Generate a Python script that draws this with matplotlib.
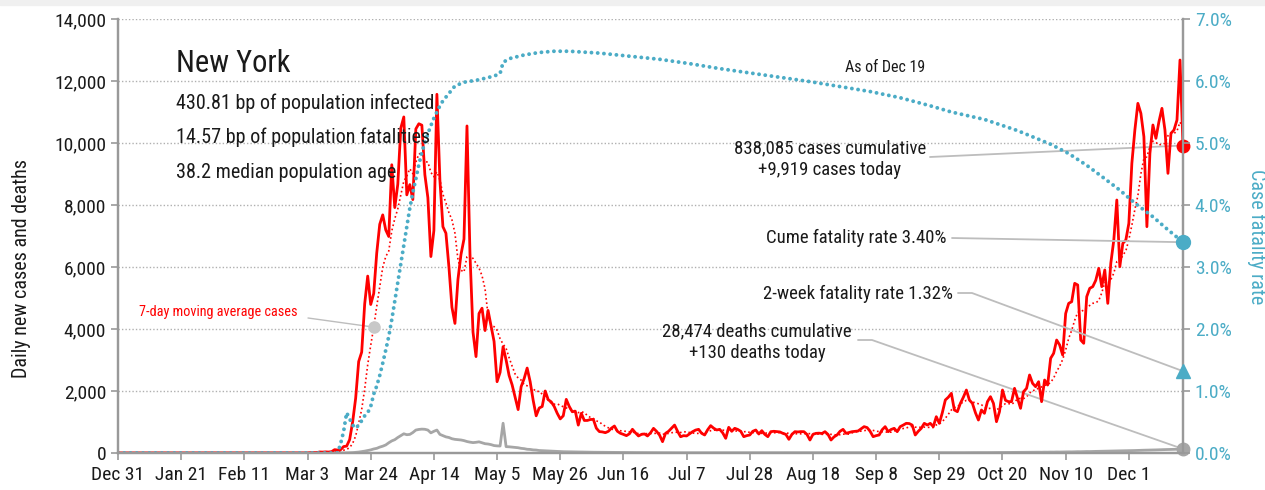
import numpy as np
import pandas as pd
import matplotlib
matplotlib.use('Agg')
import matplotlib.pyplot as plt
from matplotlib import font_manager as fm
from matplotlib.patches import Rectangle
from matplotlib.ticker import FuncFormatter

# a narrow sans, as in the original chart
installed = {f.name for f in fm.fontManager.ttflist}
narrow = next((n for n in ['Roboto Condensed', 'Archivo Narrow', 'PT Sans Narrow',
                           'Liberation Sans Narrow', 'Fira Sans Condensed',
                           'IBM Plex Sans Condensed', 'Encode Sans Condensed']
               if n in installed), 'Liberation Sans')
plt.rcParams['font.family'] = [narrow, 'DejaVu Sans']

# daily data, Dec 31 2019 .. Dec 19 2020
start, end = '2019-12-31', '2020-12-19'

cases_jan_feb = [0, 0, 0, 0, 0, 0, 0, 0, 0, 0, 0, 0, 0, 0, 0, 0, 0, 0, 0, 0,
                 0, 0, 0, 0, 0, 0, 0, 0, 0, 0, 0, 0, 0, 0, 0, 0, 0, 0, 0, 0,
                 0, 0, 0, 0, 0, 0, 0, 0, 0, 0, 0, 0, 0, 0, 0, 0, 0, 0, 0, 0, 0]
cases_mar = [1, 0, 1, 9, 11, 11, 33, 29, 36, 31, 43, 108, 95, 105, 208, 222, 432,
             1008, 1769, 2950, 3254, 4812, 5707, 4790, 5145, 6448, 7377, 7681,
             7195, 6984, 9298]
cases_apr = [7917, 8669, 10482, 10841, 8327, 8658, 8174, 10453, 10621, 10575,
             8977, 8236, 6337, 7177, 11571, 8800, 7300, 7090, 6000, 4700,
             4180, 5600, 6400, 6900, 10550, 6400, 3900, 3110, 4500, 4670]
cases_may = [3950, 4600, 4100, 3600, 2300, 2600, 3430, 3000, 2500, 2200, 1800,
             1400, 2140, 2400, 2740, 2300, 1700, 1200, 1450, 1500, 2000, 1720,
             1650, 1500, 1280, 1100, 1200, 1730, 1500, 1330, 1350]
cases_jun = [900, 1280, 1050, 1050, 1080, 1085, 800, 690, 680, 655, 700, 800,
             870, 700, 635, 600, 560, 620, 765, 650, 550, 600, 615, 550, 650,
             795, 700, 580, 365, 635]
cases_jul = [700, 800, 900, 700, 525, 560, 550, 620, 688, 740, 763, 635, 581,
             750, 882, 800, 742, 763, 650, 473, 828, 700, 796, 760, 700, 527,
             560, 581, 700, 742, 613]
cases_aug = [720, 600, 527, 688, 700, 690, 680, 634, 600, 441, 600, 688, 680,
             690, 688, 600, 419, 600, 634, 640, 630, 688, 600, 419, 520, 581,
             700, 763, 634, 660, 688]
cases_sep = [700, 710, 780, 850, 820, 700, 527, 560, 581, 750, 850, 688, 760,
             796, 688, 850, 900, 957, 950, 900, 581, 700, 796, 957, 903, 957,
             850, 1172, 957, 1300]
cases_oct = [1710, 1800, 1925, 1387, 1333, 1602, 1800, 2032, 1710, 1602, 1300,
             1064, 1387, 1280, 1656, 1817, 1600, 1010, 1333, 2032, 1700, 1656,
             1656, 2086, 1763, 1441, 1978, 2086, 2516, 2247, 2140]
cases_nov = [2300, 1656, 2354, 2193, 3054, 3215, 3645, 3484, 3161, 4500, 4827,
             4881, 5473, 5420, 3645, 3538, 5043, 5312, 5366, 5570, 5957, 5366,
             5903, 4827, 6118, 6870, 8161, 6010, 6763, 6870]
cases_dec = [7408, 9344, 10419, 11279, 10957, 10204, 7301, 9667, 10581, 10151,
             10688, 11118, 10419, 9021, 10312, 10419, 10742, 12677, 9919]

deaths_early = [0, 0, 0, 0, 0, 0, 0, 0, 0, 0, 0, 0, 0, 0, 0, 0, 0, 0, 0, 0,
                0, 0, 0, 0, 0, 0, 0, 0, 0, 0, 0, 0, 0, 0, 0, 0, 0, 0, 0, 0,
                0, 0, 0, 0, 0, 0, 0, 0, 0, 0, 0, 0, 0, 0, 0, 0, 0, 0, 0, 0,
                0, 0, 0, 0, 0, 0, 0, 0, 0, 0, 0, 0, 0, 0, 0]
deaths_mar = [3, 5, 8, 12, 20, 30, 45, 60, 80, 100, 130, 150, 190, 220, 260, 330, 390]
deaths_apr = [430, 500, 560, 620, 590, 600, 660, 740, 760, 770, 765, 740, 650,
              700, 740, 600, 560, 520, 500, 460, 440, 430, 420, 400, 370, 350,
              335, 345, 360, 330]
deaths_may = [300, 290, 270, 240, 230, 225, 960, 205, 200, 190, 183, 170, 150,
              140, 120, 115, 100, 95, 80, 75, 70, 62, 58, 52, 48, 45, 42, 40, 38,
              36, 35]
deaths_jun = [33, 32, 30, 28, 27, 25, 24, 23, 22, 21, 20, 19, 18, 18, 17, 16, 15,
              15, 14, 14, 13, 13, 12, 12, 11, 11, 10, 10, 10, 9]
deaths_jul = [9, 9, 8, 8, 8, 8, 7, 7, 7, 7, 8, 7, 7, 6, 6, 7, 7, 6, 6, 6, 7, 6, 6,
              6, 5, 5, 6, 6, 5, 5, 6]
deaths_aug = [6, 5, 5, 5, 6, 5, 5, 5, 5, 6, 5, 5, 5, 5, 5, 6, 5, 5, 5, 5, 5, 5, 5,
              6, 5, 5, 5, 6, 5, 5, 5]
deaths_sep = [5, 5, 6, 5, 5, 6, 5, 5, 6, 6, 5, 6, 6, 6, 6, 7, 6, 7, 7, 6, 8, 7, 8,
              8, 7, 8, 9, 8, 9, 9]
deaths_oct = [9, 10, 9, 10, 11, 10, 11, 12, 11, 13, 12, 14, 13, 15, 14, 15, 16, 15,
              17, 16, 18, 17, 19, 20, 19, 21, 22, 21, 23, 24, 25]
deaths_nov = [26, 25, 28, 27, 30, 29, 32, 31, 34, 35, 37, 36, 40, 42, 41, 45, 47,
              46, 50, 52, 54, 55, 58, 60, 62, 63, 66, 68, 70, 72]
deaths_dec = [75, 78, 80, 84, 86, 90, 92, 95, 98, 100, 104, 106, 110, 112, 115,
              118, 122, 126, 130]

# case fatality rate (%), read at selected dates
cfr_dates = ['2019-12-31', '2020-03-13', '2020-03-14', '2020-03-15', '2020-03-16',
             '2020-03-17', '2020-03-18', '2020-03-19', '2020-03-20', '2020-03-21',
             '2020-03-22', '2020-03-23', '2020-03-24', '2020-03-25', '2020-03-26',
             '2020-03-27', '2020-03-28', '2020-03-29', '2020-03-30', '2020-03-31',
             '2020-04-01', '2020-04-02', '2020-04-03', '2020-04-04', '2020-04-05',
             '2020-04-06', '2020-04-07', '2020-04-08', '2020-04-09', '2020-04-10',
             '2020-04-11', '2020-04-12', '2020-04-13', '2020-04-14', '2020-04-15',
             '2020-04-16', '2020-04-17', '2020-04-19', '2020-04-21', '2020-04-24',
             '2020-04-29', '2020-05-04', '2020-05-06', '2020-05-07', '2020-05-09',
             '2020-05-14', '2020-05-19', '2020-05-24', '2020-05-29', '2020-06-08',
             '2020-06-18', '2020-06-28', '2020-07-08', '2020-07-18', '2020-07-28',
             '2020-08-07', '2020-08-17', '2020-08-27', '2020-09-06', '2020-09-16',
             '2020-09-26', '2020-10-03', '2020-10-14', '2020-10-25', '2020-11-05',
             '2020-11-11', '2020-11-17', '2020-11-22', '2020-11-28', '2020-12-03',
             '2020-12-09', '2020-12-14', '2020-12-19']
cfr_pct = [0, 0, 0.15, 0.35, 0.65, 0.55, 0.45, 0.40, 0.45, 0.52, 0.60, 0.65, 0.75,
           0.95, 1.08, 1.25, 1.45, 1.66, 1.88, 2.15, 2.45, 2.75, 3.05, 3.35, 3.65,
           3.95, 4.20, 4.42, 4.65, 4.85, 5.00, 5.15, 5.28, 5.40, 5.50, 5.60, 5.68,
           5.80, 5.92, 5.98, 6.02, 6.08, 6.12, 6.30, 6.36, 6.42, 6.46, 6.48, 6.48,
           6.45, 6.40, 6.35, 6.28, 6.20, 6.13, 6.06, 5.99, 5.91, 5.83, 5.73, 5.60,
           5.50, 5.38, 5.20, 4.98, 4.83, 4.64, 4.46, 4.24, 4.03, 3.81, 3.60, 3.40]

title = 'New York'
stats = ['430.81 bp of population infected',
         '14.57 bp of population fatalities',
         '38.2 median population age']
cases_note = '838,085 cases cumulative\n+9,919 cases today'
deaths_note = '28,474 deaths cumulative\n+130 deaths today'
cfr_note = 'Cume fatality rate 3.40%'
cfr_2wk = 1.32
cfr_2wk_note = '2-week fatality rate 1.32%'

days = pd.date_range(start, end, freq='D')
cases = pd.Series(cases_jan_feb + cases_mar + cases_apr + cases_may + cases_jun +
                  cases_jul + cases_aug + cases_sep + cases_oct + cases_nov +
                  cases_dec, index=days)
deaths = pd.Series(deaths_early + deaths_mar + deaths_apr + deaths_may + deaths_jun +
                   deaths_jul + deaths_aug + deaths_sep + deaths_oct + deaths_nov +
                   deaths_dec, index=days)
ma7 = cases.rolling(7, min_periods=1).mean()
cfr = pd.Series(cfr_pct, index=pd.to_datetime(cfr_dates))

RED = '#ff0000'
TEAL = '#4bacc6'
GREY = '#a6a6a6'
AX = '#999999'
INK = '#1a1a1a'
W, H = 1265, 490

fig = plt.figure(figsize=(W / 100, H / 100), dpi=100)
fig.patches.append(Rectangle((0, 1 - 5 / H), 1, 5 / H, transform=fig.transFigure,
                             color='#f0f0f0', zorder=0))
ax = fig.add_axes([118 / W, 37 / H, (1183 - 118) / W, (471 - 37) / H])
ax2 = ax.twinx()

ax.plot(days, ma7, color=RED, lw=1.2, ls=(0, (1, 1.6)), zorder=3)
ax.plot(days, cases, color=RED, lw=2, zorder=4)
ax.plot(days, deaths, color=GREY, lw=2, zorder=3)
ax2.plot(cfr.index, cfr.values, color=TEAL, lw=2.8, ls=(0, (0.01, 1.6)),
         dash_capstyle='round')

last = days[-1]
ax.plot(last, cases.iloc[-1], 'o', color=RED, ms=9, clip_on=False, zorder=6)
ax.plot(last, deaths.iloc[-1], 'o', color=GREY, ms=9, clip_on=False, zorder=6)
ax2.plot(last, cfr.iloc[-1], 'o', color=TEAL, ms=10, clip_on=False, zorder=6)
ax2.plot(last, cfr_2wk, '^', color=TEAL, ms=10, clip_on=False, zorder=6)
ma_day = pd.Timestamp('2020-03-25')
ax.plot(ma_day, ma7[ma_day], 'o', color='#c8c8c8', ms=8, zorder=6)

# axes styling
ax.set_xlim(days[0], days[-1])
ax.set_ylim(0, 14000)
ax2.set_ylim(0, 7)
ax.set_yticks(range(0, 14001, 2000))
ax.yaxis.set_major_formatter(FuncFormatter(lambda v, p: f'{v:,.0f}'))
ax2.set_yticks(np.arange(0, 7.01, 1))
ax2.yaxis.set_major_formatter(FuncFormatter(lambda v, p: f'{v:.1f}%'))
xt = days[::21]
ax.set_xticks(xt)
ax.set_xticklabels([f'{d:%b} {d.day}' for d in xt])
ax.yaxis.grid(True, ls=(0, (1, 1.5)), color='#b0b0b0', lw=1)
ax.set_axisbelow(True)

for a in (ax, ax2):
    a.spines['top'].set_visible(False)
    for s in ('left', 'right', 'bottom'):
        a.spines[s].set_color(AX)
        a.spines[s].set_linewidth(1.6)
ax.tick_params(axis='both', length=5, width=1.2, color=AX, labelsize=14,
               labelcolor=INK)
ax.tick_params(axis='x', pad=4)
ax2.tick_params(axis='y', length=5, width=1.2, color=AX, labelsize=14,
                labelcolor=TEAL)
ax.set_ylabel('Daily new cases and deaths', fontsize=14.5, color=INK)
ax.yaxis.set_label_coords(-0.082, 0.424)
ax2.set_ylabel('Case fatality rate', fontsize=14.5, color=TEAL, rotation=270,
               va='bottom')
ax2.yaxis.set_label_coords(1.060, 0.498)


def fx(px):
    return px / W


def fy(py):
    return 1 - py / H


fig.text(fx(176), fy(63), title, fontsize=22, va='center', color=INK)
for i, s in enumerate(stats):
    fig.text(fx(176), fy(103 + 34.5 * i), s, fontsize=14.5, va='center', color=INK)
fig.text(fx(885), fy(68), 'As of Dec 19', fontsize=11.5, ha='center', va='center',
         color=INK)
fig.text(fx(830), fy(159), cases_note, fontsize=13.5, ha='center', va='center',
         linespacing=1.3, color=INK)
fig.text(fx(947), fy(238), cfr_note, fontsize=13.5, ha='right', va='center',
         color=INK)
fig.text(fx(953), fy(294), cfr_2wk_note, fontsize=13.5, ha='right', va='center',
         color=INK)
fig.text(fx(757), fy(342), deaths_note, fontsize=13.5, ha='center', va='center',
         linespacing=1.3, color=INK)
fig.text(fx(218), fy(312), '7-day moving average cases', fontsize=10.3, ha='center',
         va='center', color=RED)

lp = dict(arrowstyle='-', color='#bdbdbd', lw=1.3, shrinkA=0, shrinkB=0)
ax.annotate('', xy=(last, cases.iloc[-1]), xytext=(930, H - 157),
            textcoords='figure pixels', arrowprops=lp)
ax2.annotate('', xy=(last, cfr.iloc[-1]), xytext=(952, H - 238),
             textcoords='figure pixels', arrowprops=lp)
ax2.annotate('', xy=(last, cfr_2wk), xytext=(958, H - 293), textcoords='figure pixels',
             arrowprops=dict(lp, connectionstyle='arc,angleA=0,armA=14,rad=0'))
ax.annotate('', xy=(last, deaths.iloc[-1]), xytext=(858, H - 340),
            textcoords='figure pixels',
            arrowprops=dict(lp, connectionstyle='arc,angleA=0,armA=14,rad=0'))
ax.annotate('', xy=(ma_day, ma7[ma_day]), xytext=(308, H - 318),
            textcoords='figure pixels', arrowprops=dict(lp, lw=1))

fig.savefig('out.png', dpi=100)
